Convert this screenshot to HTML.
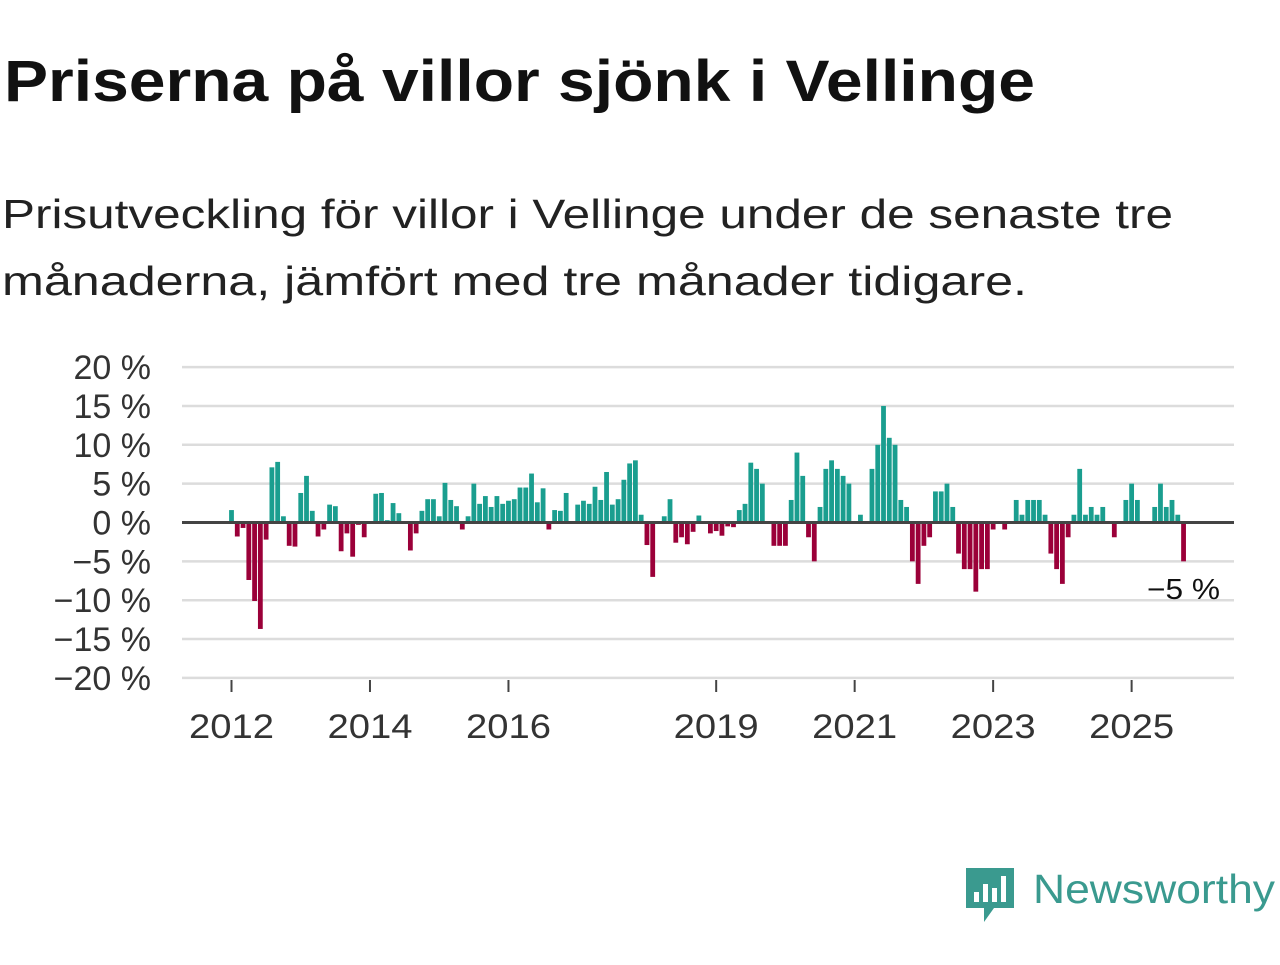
<!DOCTYPE html>
<html><head><meta charset="utf-8"><style>
body{margin:0;background:#fff;width:1280px;height:960px;overflow:hidden;font-family:"Liberation Sans",sans-serif}
</style></head><body>
<svg width="1280" height="960" xmlns="http://www.w3.org/2000/svg">
<text x="4" y="101" font-size="58" font-weight="bold" fill="#111" textLength="1031" lengthAdjust="spacingAndGlyphs">Priserna på villor sjönk i Vellinge</text>
<text x="2" y="228" font-size="41" fill="#222" textLength="1171" lengthAdjust="spacingAndGlyphs">Prisutveckling för villor i Vellinge under de senaste tre</text>
<text x="2" y="295" font-size="41" fill="#222" textLength="1025" lengthAdjust="spacingAndGlyphs">månaderna, jämfört med tre månader tidigare.</text>
<g id="grid"></g>
<g id="bars"></g>
<g id="axes"></g>
<text x="1147" y="599" font-size="29" fill="#111" textLength="73" lengthAdjust="spacingAndGlyphs">−5 %</text>
<g>
<path d="M966 868 h48 v40 h-20 l-10 14 v-14 h-18 z" fill="#3a9a8f"/>
<rect x="974" y="892" width="5" height="10" fill="#fff"/><rect x="983" y="884" width="5" height="18" fill="#fff"/><rect x="992" y="888" width="5" height="14" fill="#fff"/><rect x="1001" y="876" width="5" height="26" fill="#fff"/>
<text x="1033" y="903" font-size="41" fill="#3a9a8f" textLength="242" lengthAdjust="spacingAndGlyphs">Newsworthy</text>
</g>
</svg>
<script>
const values = [1.6,-1.8,-0.7,-7.4,-10.1,-13.7,-2.2,7.1,7.8,0.8,-3.0,-3.1,3.8,6.0,1.5,-1.8,-0.9,2.3,2.1,-3.7,-1.4,-4.4,-0.3,-1.9,0,3.7,3.8,0.3,2.5,1.2,0,-3.6,-1.4,1.5,3.0,3.0,0.8,5.1,2.9,2.1,-0.9,0.8,5.0,2.4,3.4,2.0,3.4,2.4,2.8,3.0,4.5,4.5,6.3,2.6,4.4,-0.9,1.6,1.5,3.8,0,2.3,2.8,2.4,4.6,2.9,6.5,2.3,3.0,5.5,7.6,8.0,1.0,-2.9,-7.0,0,0.8,3.0,-2.6,-1.9,-2.8,-1.2,0.9,0,-1.4,-1.1,-1.7,-0.5,-0.6,1.6,2.4,7.7,6.9,5.0,0,-3.0,-3.0,-3.0,2.9,9.0,6.0,-1.9,-5.0,2.0,6.9,8.0,6.9,6.0,5.0,0,1.0,0,6.9,10.0,15.0,10.9,10.0,2.9,2.0,-5.0,-7.9,-3.0,-1.9,4.0,4.0,5.0,2.0,-4.0,-6.0,-6.0,-8.9,-6.0,-6.0,-0.9,0,-0.9,0,2.9,1.0,2.9,2.9,2.9,1.0,-4.0,-6.0,-7.9,-1.9,1.0,6.9,1.0,2.0,1.0,2.0,0,-1.9,0,2.9,5.0,2.9,0,0,2.0,5.0,2.0,2.9,1.0,-5.0];
const yTicks = [20,15,10,5,0,-5,-10,-15,-20];
const yearLabels = [2012,2014,2016,2019,2021,2023,2025];
const startYear = 2012;
const NS="http://www.w3.org/2000/svg";
const X0=231.5, SLOT=5.77, Y0=522.5, PPU=7.77, L=182, R=1234;
const x=i=>X0+i*SLOT, y=v=>Y0-v*PPU;
function mk(tag,attrs,parent){const e=document.createElementNS(NS,tag);for(const k in attrs)e.setAttribute(k,attrs[k]);parent.appendChild(e);return e;}
const grid=document.getElementById('grid'),bars=document.getElementById('bars'),axes=document.getElementById('axes');
yTicks.forEach(t=>{
  if(t!==0){const g=mk('line',{x1:L,x2:R,y1:y(t),y2:y(t),stroke:'#dcdcdc','stroke-width':2.5},grid);
  
  }
  const tx=mk('text',{x:151,y:y(t)+12,'font-size':34,fill:'#333','text-anchor':'end'},axes);
  tx.textContent=(t<0?'−'+(-t):t)+' %';
  
  
});
values.forEach((v,i)=>{
  if(v===0)return;
  const r=mk('rect',{x:x(i)-2.4,width:4.8,y:Math.min(y(v),Y0),height:Math.abs(v*PPU),fill:v>0?'#1a9e8f':'#9b0039'},bars);
  
  
});
const z=mk('line',{x1:L,x2:R,y1:Y0,y2:Y0,stroke:'#444','stroke-width':3},axes);


yearLabels.forEach(yr=>{
  const xx=x(12*(yr-startYear));
  const tk=mk('line',{x1:xx,x2:xx,y1:680,y2:692,stroke:'#444','stroke-width':2},axes);
  
  
  const t=mk('text',{x:xx-42.5,y:738,'font-size':34,fill:'#333',textLength:85,lengthAdjust:'spacingAndGlyphs'},axes);
  t.textContent=yr;
  
  
});
</script>
</body></html>
